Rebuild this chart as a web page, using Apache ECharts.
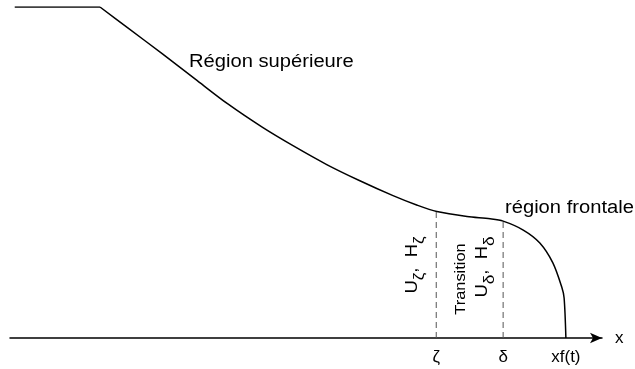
<!DOCTYPE html>
<html>
<head>
<meta charset="utf-8">
<script src="https://cdn.jsdelivr.net/npm/echarts@6/dist/echarts.min.js"></script>
<style>
  html, body { margin: 0; padding: 0; background: #fff; }
  #chart { width: 635px; height: 369px; }
</style>
</head>
<body>
<div id="chart"></div>
<script>
// plateau at the top (left)
var topX = [0.08, 1.52]
var topH = [1, 1]

// profile, from the end of the plateau to the front xf(t)
var profileX = [1.52, 1.99, 2.57, 3.13, 3.68, 4.26, 4.78, 5.35, 5.91, 6.47, 6.88, 7.21, 7.72, 8.11, 8.33, 8.67, 8.95, 9.17, 9.32, 9.36, 9.39]
var profileH = [1, 0.937, 0.859, 0.782, 0.707, 0.637, 0.581, 0.524, 0.475, 0.430, 0.401, 0.382, 0.367, 0.360, 0.353, 0.326, 0.287, 0.227, 0.154, 0.121, 0]

// positions marked on the x axis
var tickValues = [7.20, 8.33, 9.39]
var tickLabels = ['ζ', 'δ', 'xf(t)']

// height of the profile at the dashed lines
var zetaX = 7.20, zetaH = 0.382
var deltaX = 8.33, deltaH = 0.353

var FONT = 'Liberation Sans, Arial, sans-serif'

function pairs(xs, ys) {
  return xs.map(function (x, i) { return [x, ys[i]] })
}

// rotated label with subscripts
var subRich = {
  m: { fontSize: 16, fontFamily: FONT, lineHeight: 28, verticalAlign: 'middle', fill: '#000' },
  s: { fontSize: 15, fontFamily: FONT, lineHeight: 28, verticalAlign: 'bottom', fill: '#000' }
}

var chart = echarts.init(document.getElementById('chart'))

chart.setOption({
  animation: false,
  backgroundColor: '#fff',
  grid: { left: 10, right: 33, top: 7, bottom: 31 },
  xAxis: {
    type: 'value',
    min: 0,
    max: 10,
    name: 'x',
    nameLocation: 'end',
    nameGap: 13,
    nameTextStyle: { color: '#000', fontSize: 17, fontFamily: FONT, padding: [10, 0, 0, 0] },
    splitLine: { show: false },
    axisTick: { show: false },
    axisLine: {
      symbol: ['none', 'arrow'],
      symbolSize: [8, 12],
      lineStyle: { color: '#000', width: 1.5 }
    },
    axisLabel: {
      customValues: tickValues,
      margin: 11,
      color: '#000',
      fontSize: 17,
      fontFamily: FONT,
      formatter: function (v) {
        var i = tickValues.indexOf(v)
        return i >= 0 ? tickLabels[i] : ''
      }
    }
  },
  yAxis: {
    type: 'value',
    min: 0,
    max: 1,
    show: false
  },
  series: [
    {
      type: 'line',
      data: pairs(topX, topH),
      symbol: 'none',
      lineStyle: { color: '#000', width: 1.5 }
    },
    {
      type: 'line',
      data: pairs(profileX, profileH),
      symbol: 'none',
      smooth: 0.3,
      lineStyle: { color: '#000', width: 1.5 }
    },
    {
      type: 'line',
      data: [[zetaX, 0], [zetaX, zetaH]],
      symbol: 'none',
      lineStyle: { color: '#555', width: 1, type: [6, 4] }
    },
    {
      type: 'line',
      data: [[deltaX, 0], [deltaX, deltaH]],
      symbol: 'none',
      lineStyle: { color: '#555', width: 1, type: [6, 4] }
    }
  ],
  graphic: [
    {
      type: 'text', x: 189, y: 62, scaleX: 1.12,
      style: { text: 'Région supérieure', fill: '#000', font: '18px ' + FONT, verticalAlign: 'middle' }
    },
    {
      type: 'text', x: 505, y: 208, scaleX: 1.12,
      style: { text: 'région frontale', fill: '#000', font: '18px ' + FONT, verticalAlign: 'middle' }
    },
    {
      type: 'text', x: 413, y: 265, rotation: Math.PI / 2, scaleX: 1.15,
      style: {
        text: '{m|U}{s|ζ}{m|,  H}{s|ζ}',
        align: 'center', verticalAlign: 'middle', fill: '#000',
        rich: subRich
      }
    },
    {
      type: 'text', x: 461, y: 279, rotation: Math.PI / 2, scaleX: 1.17,
      style: { text: 'Transition', fill: '#000', font: '14px ' + FONT, align: 'center', verticalAlign: 'middle' }
    },
    {
      type: 'text', x: 483, y: 267, rotation: Math.PI / 2, scaleX: 1.15,
      style: {
        text: '{m|U}{s|δ}{m|,  H}{s|δ}',
        align: 'center', verticalAlign: 'middle', fill: '#000',
        rich: subRich
      }
    }
  ]
})
</script>
</body>
</html>
